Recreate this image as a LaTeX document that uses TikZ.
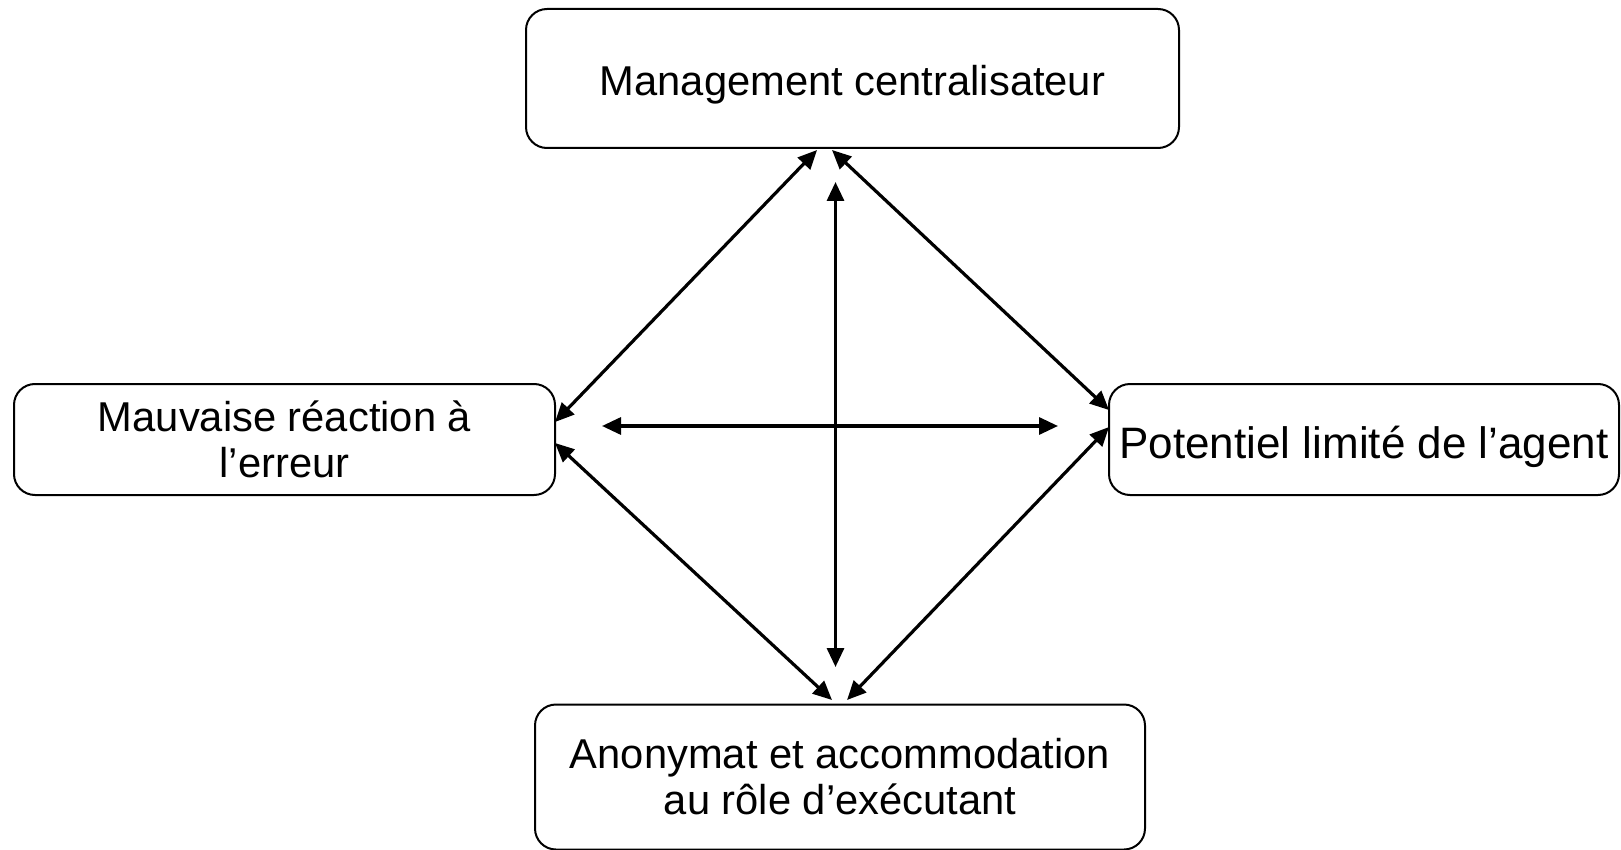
\documentclass[tikz,border=0pt]{standalone}
\usepackage{fontspec}
\setmainfont{Liberation Sans}
\usetikzlibrary{arrows.meta}
\tikzset{
  box/.style={draw=black, line width=2pt, rounded corners=21pt, inner sep=0pt, align=center,
    font=\fontsize{41.7}{46}\selectfont},
  link/.style={line width=3.2pt, {Triangle[length=19pt,width=17pt]}-{Triangle[length=19pt,width=17pt]}}
}
\begin{document}
\begin{tikzpicture}[x=1pt,y=-1pt]
\useasboundingbox (0,0) rectangle (1621,850);
\node[box, minimum width=653pt, minimum height=139pt, text height=43pt, text depth=9pt] (T) at (852.5,78.5) {Management centralisateur};
\node[box, minimum width=541pt, minimum height=111pt] (L) at (284.5,439.5) {Mauvaise réaction à\\l’erreur};
\node[box, minimum width=510pt, minimum height=111pt, text height=46pt, text depth=9pt, font=\fontsize{44}{48}\selectfont] (R) at (1364,439.5) {Potentiel limité de l’agent};
\node[box, minimum width=610pt, minimum height=145pt] (B) at (840,777) {Anonymat et accommodation\\au rôle d’exécutant};
\coordinate (tl1) at (555,422);
\coordinate (tl2) at (817,150);
\coordinate (tr1) at (832,150);
\coordinate (tr2) at (1109,410);
\coordinate (bl1) at (555,443);
\coordinate (bl2) at (832,700);
\coordinate (br1) at (1109,427);
\coordinate (br2) at (847,700);
\coordinate (v1) at (835.5,182);
\coordinate (v2) at (835.5,667);
\coordinate (h1) at (602,426);
\coordinate (h2) at (1058,426);
\draw[link] (tl1) -- (tl2);
\draw[link] (tr1) -- (tr2);
\draw[link] (bl1) -- (bl2);
\draw[link] (br1) -- (br2);
\draw[link] (v1) -- (v2);
\draw[link] (h1) -- (h2);
\end{tikzpicture}
\end{document}
